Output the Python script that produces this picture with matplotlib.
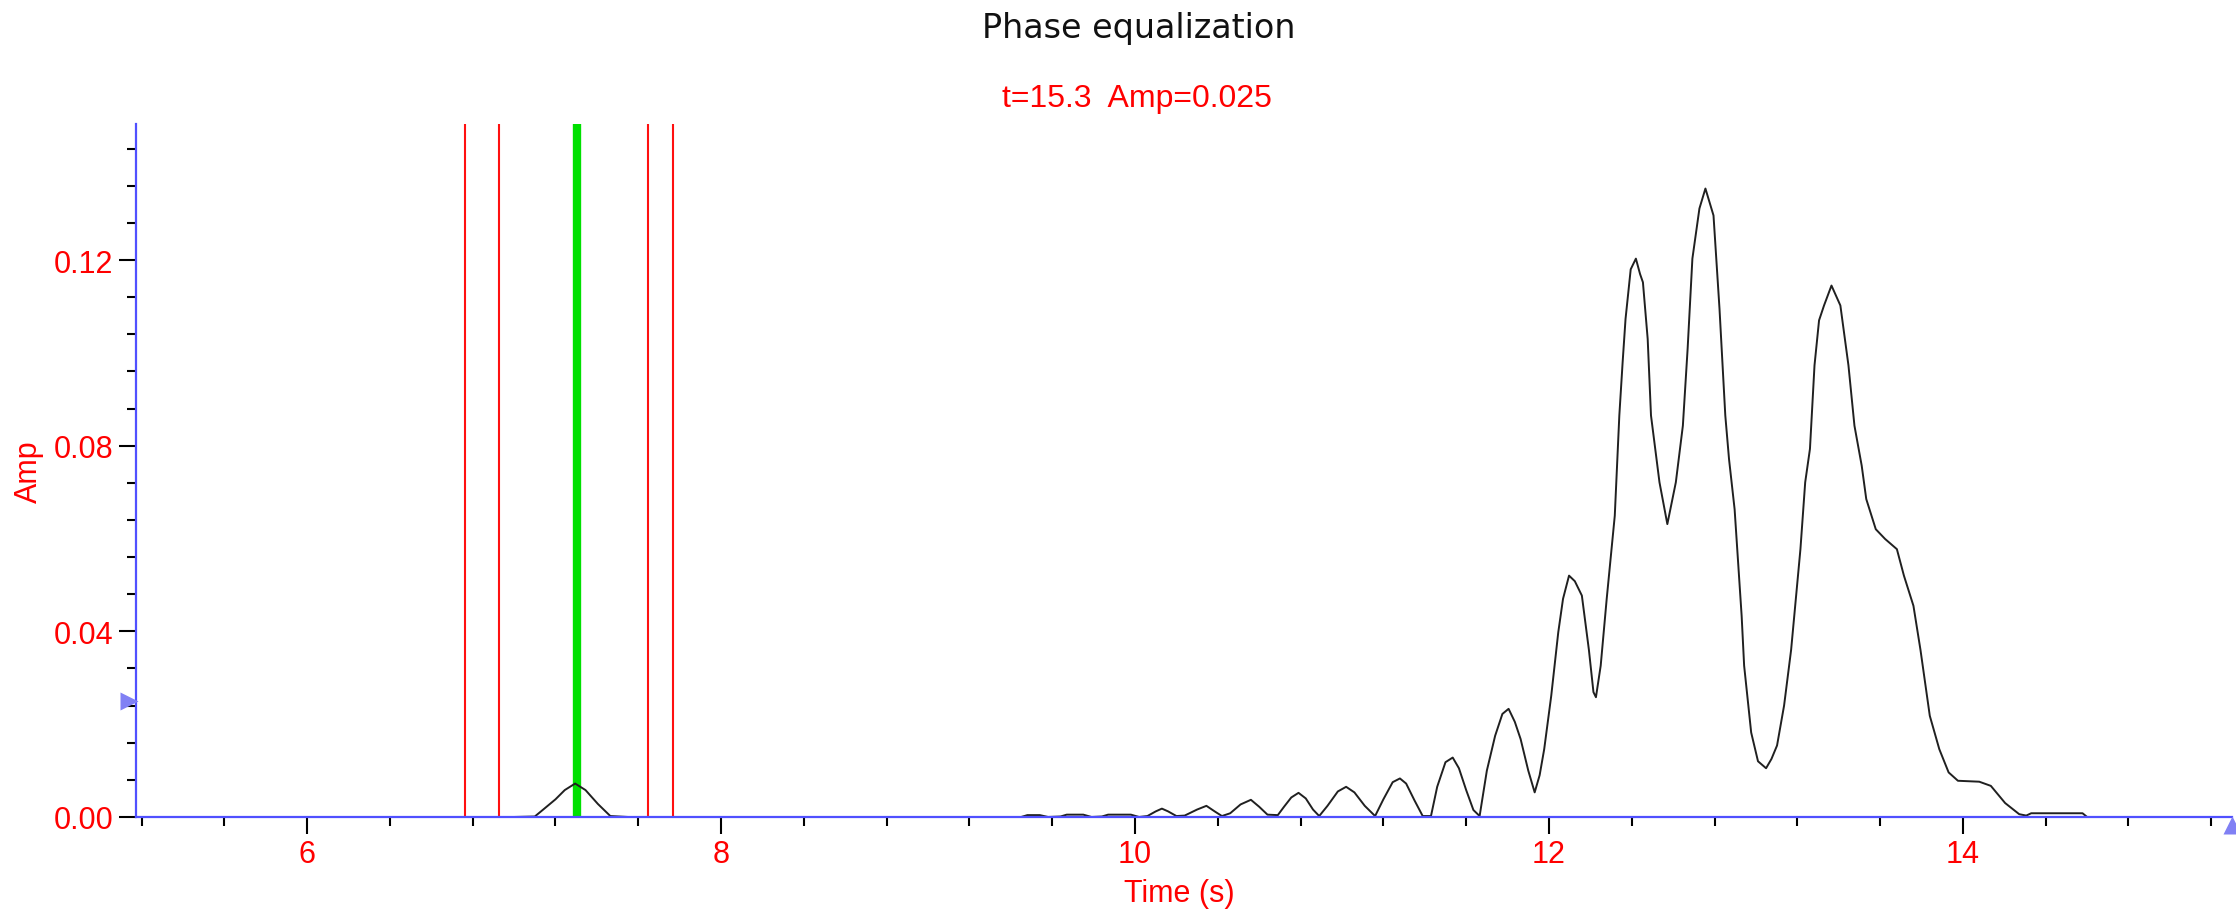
import matplotlib
matplotlib.use("Agg")
import matplotlib.pyplot as plt
from matplotlib.ticker import MultipleLocator, FormatStrFormatter
from matplotlib.transforms import offset_copy

# ---- data ----
time_s = [
    7.00, 7.10, 7.13, 7.20, 7.245, 7.295, 7.345, 7.405, 7.465, 7.55,
    9.45, 9.48, 9.54, 9.58, 9.64, 9.67, 9.75, 9.79, 9.84, 9.87, 9.98, 10.02,
    10.06, 10.10, 10.13, 10.16, 10.20, 10.24, 10.30, 10.345, 10.385, 10.42,
    10.46, 10.51, 10.56, 10.60, 10.64, 10.69,
    10.72, 10.755, 10.79, 10.825, 10.86, 10.89,
    10.93, 10.98, 11.02, 11.06, 11.11, 11.16,
    11.20, 11.245, 11.28, 11.31, 11.35, 11.39, 11.43,
    11.46, 11.50, 11.535, 11.565, 11.60, 11.635, 11.665,
    11.70, 11.74, 11.775, 11.805, 11.835, 11.863, 11.90, 11.931,
    11.955, 11.977, 12.011, 12.045, 12.068, 12.097, 12.125, 12.159, 12.193,
    12.215, 12.227, 12.250, 12.279, 12.318, 12.340, 12.356, 12.370, 12.395,
    12.420, 12.440, 12.454, 12.477, 12.493, 12.534, 12.572, 12.613, 12.647,
    12.670, 12.693, 12.727, 12.756, 12.795, 12.824, 12.852, 12.870, 12.897,
    12.931, 12.943, 12.977, 13.010, 13.049, 13.075, 13.102, 13.136, 13.170,
    13.215, 13.238, 13.261, 13.283, 13.305, 13.329, 13.365, 13.408, 13.447,
    13.476, 13.511, 13.533, 13.579, 13.624, 13.681, 13.715, 13.761, 13.795,
    13.840, 13.886, 13.931, 13.976, 14.079, 14.135, 14.204, 14.272, 14.306,
    14.330, 14.578, 14.60,
]
amp = [
    0.0, 0.0001, 0.0012, 0.0038, 0.0058, 0.0072, 0.0058, 0.0028, 0.0002, 0.0,
    0.0, 0.0004, 0.0004, 0.0, 0.0001, 0.0005, 0.0005, 0.0, 0.0001, 0.0005, 0.0005, 0.0,
    0.0002, 0.0012, 0.0018, 0.0012, 0.0002, 0.0003, 0.0016, 0.0024, 0.0012, 0.0002,
    0.0008, 0.0027, 0.0037, 0.0022, 0.0005, 0.0004,
    0.0022, 0.0042, 0.0052, 0.0040, 0.0016, 0.0002,
    0.0024, 0.0055, 0.0065, 0.0053, 0.0024, 0.0002,
    0.0038, 0.0075, 0.0083, 0.0072, 0.0036, 0.0002, 0.0002,
    0.0065, 0.0118, 0.0128, 0.0105, 0.0058, 0.0015, 0.0002,
    0.0100, 0.0175, 0.0222, 0.0233, 0.0205, 0.0168, 0.0100, 0.0053,
    0.0090, 0.0146, 0.0261, 0.0398, 0.0470, 0.0520, 0.0508, 0.0477, 0.0360,
    0.0269, 0.0258, 0.0326, 0.0470, 0.0649, 0.0865, 0.0980, 0.1073, 0.1180,
    0.1203, 0.1170, 0.1152, 0.1030, 0.0865, 0.0721, 0.0631, 0.0721, 0.0843,
    0.1009, 0.1203, 0.1311, 0.1354, 0.1296, 0.1095, 0.0865, 0.0771, 0.0663,
    0.0433, 0.0326, 0.0182, 0.0120, 0.0105, 0.0125, 0.0154, 0.0240, 0.0360,
    0.0577, 0.0721, 0.0793, 0.0973, 0.1070, 0.1102, 0.1145, 0.1102, 0.0973,
    0.0843, 0.0757, 0.0685, 0.0620, 0.0599, 0.0577, 0.0520, 0.0455, 0.0360,
    0.0218, 0.0146, 0.0096, 0.0078, 0.0076, 0.0067, 0.0030, 0.0006, 0.0003,
    0.0008, 0.0008, 0.0,
]

window_lines = [6.765, 6.925, 7.648, 7.766]   # red picks
pick_time = 7.302                             # green pick
cursor_t = 15.3
cursor_amp = 0.025

x_min, x_max = 5.172, 15.3
y_min, y_max = 0.0, 0.1492

# ---- figure ----
fig = plt.figure(figsize=(22.36, 9.2), dpi=100)
ax = fig.add_axes([0.0607, 0.1109, 0.9375, 0.7527])

axis_blue = "#5050ff"
tick_font = "Liberation Sans"

for xv in window_lines:
    ax.axvline(xv, color="#ff1010", lw=1.5, zorder=1)
ax.axvline(pick_time, color="#00e000", lw=6, zorder=1)

ax.plot(time_s, amp, color="#202020", lw=1.4, zorder=2)

ax.set_xlim(x_min, x_max)
ax.set_ylim(y_min, y_max)

for side in ("top", "right"):
    ax.spines[side].set_visible(False)
for side in ("left", "bottom"):
    ax.spines[side].set_color(axis_blue)
    ax.spines[side].set_linewidth(1.6)
    ax.spines[side].set_zorder(3)

ax.xaxis.set_major_locator(MultipleLocator(2))
ax.xaxis.set_minor_locator(MultipleLocator(0.4))
ax.yaxis.set_major_locator(MultipleLocator(0.04))
ax.yaxis.set_minor_locator(MultipleLocator(0.008))
ax.yaxis.set_major_formatter(FormatStrFormatter("%.2f"))
ax.xaxis.set_major_formatter(FormatStrFormatter("%d"))

ax.tick_params(which="major", length=12, width=1.5, color="black",
               labelcolor="red", labelsize=22, pad=4)
ax.tick_params(which="minor", length=6.5, width=1.5, color="black")
for lab in ax.get_xticklabels() + ax.get_yticklabels():
    lab.set_fontfamily(tick_font)

ax.set_xlabel("Time (s)", color="red", fontsize=22, family=tick_font)
ax.xaxis.set_label_coords(0.498, -0.088)
ax.set_ylabel("Amp", color="red", fontsize=22, family=tick_font)
ax.yaxis.set_label_coords(-0.044, 0.5)

# cursor markers on the axes
left_tr = offset_copy(ax.transData, fig=fig, x=-7, y=0, units="dots")
ax.plot([x_min], [cursor_amp], marker=">", ms=13, color="#8080f4",
        mec="none", clip_on=False, transform=left_tr, zorder=4)
bot_tr = offset_copy(ax.transData, fig=fig, x=0, y=-8, units="dots")
ax.plot([cursor_t], [y_min], marker="^", ms=13, color="#8080f4",
        mec="none", clip_on=False, transform=bot_tr, zorder=4)

fig.text(0.5095, 0.9685, "Phase equalization", ha="center", va="center",
         fontsize=24, family="DejaVu Sans", color="#111111")
fig.text(0.5085, 0.8925, f"t={cursor_t}  Amp={cursor_amp}", ha="center",
         va="center", fontsize=23, family=tick_font, color="red")

fig.savefig("out.png", dpi=100)
